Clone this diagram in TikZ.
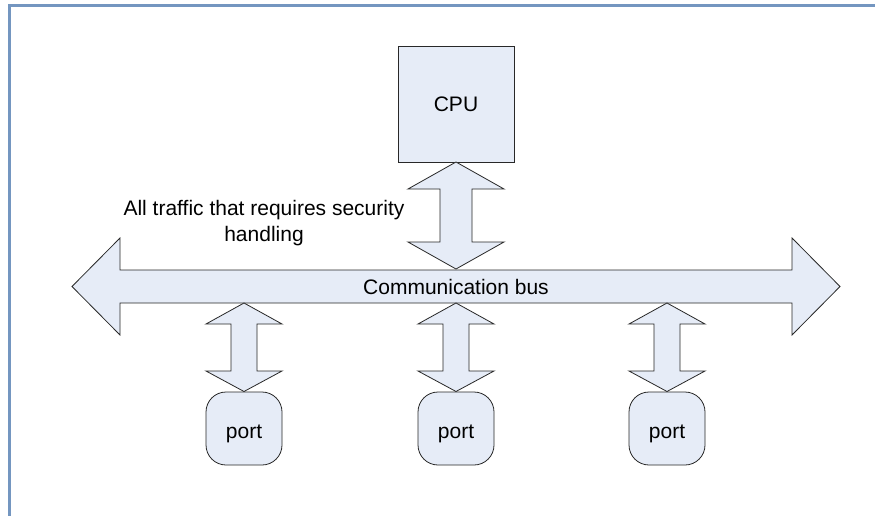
\documentclass[tikz,border=0pt]{standalone}
\usepackage{fontspec}
\setmainfont{Liberation Sans}
\definecolor{framec}{RGB}{116,150,192}
\definecolor{fillc}{RGB}{230,236,247}
\definecolor{linec}{RGB}{40,40,40}
\tikzset{
  shapefill/.style={fill=fillc, draw=linec, line width=0.8pt, line join=miter},
  boxnode/.style={shapefill, inner sep=0pt},
  txt/.style={font=\fontsize{21}{26}\selectfont, text=black, inner sep=0pt},
}
\begin{document}
\begin{tikzpicture}[x=1pt,y=-1pt]
\useasboundingbox (0,0) rectangle (875,516);
\fill[white] (0,0) rectangle (875,516);
% frame
\draw[framec, line width=3pt] (9,520) -- (9,5.5) -- (880,5.5);

% bus
\draw[shapefill] (72,286.5) -- (120,238) -- (120,270) -- (792,270) -- (792,238)
  -- (840,286.5) -- (792,335) -- (792,303) -- (120,303) -- (120,335) -- cycle;
\node[txt, anchor=base] (bus) at (456,294.3) {Communication bus};

% CPU
\node[boxnode, minimum width=116pt, minimum height=116pt] (cpu) at (456,104) {};
\node[txt, anchor=base] (cputxt) at (456,111.7) {CPU};
\draw[shapefill] (456,162) -- (504,189) -- (472,189) -- (472,242) -- (504,242)
  -- (456,269) -- (408,242) -- (440,242) -- (440,189) -- (408,189) -- cycle;

% label
\node[txt, anchor=base] (lab1) at (264,215) {All traffic that requires security};
\node[txt, anchor=base] (lab2) at (264,241) {handling};

% ports
\foreach \cx/\nm in {244/p1, 456/p2, 667/p3}{
  \draw[shapefill] (\cx,303) -- (\cx+38,324) -- (\cx+13,324) -- (\cx+13,371)
    -- (\cx+38,371) -- (\cx,391.5) -- (\cx-38,371) -- (\cx-13,371)
    -- (\cx-13,324) -- (\cx-38,324) -- cycle;
  \node[boxnode, rounded corners=20pt, minimum width=76pt, minimum height=73pt] (\nm) at (\cx,428.5) {};
  \node[txt, anchor=base] (\nm t) at (\cx,438.3) {port};
}
\end{tikzpicture}
\end{document}
